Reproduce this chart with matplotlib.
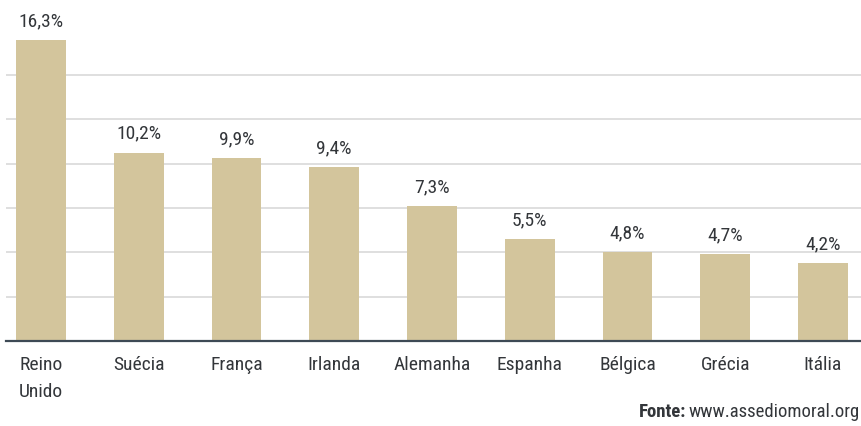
import matplotlib
matplotlib.use("Agg")
import matplotlib.pyplot as plt
from matplotlib import font_manager

# dados
paises = ["Reino\nUnido", "Suécia", "França", "Irlanda", "Alemanha", "Espanha", "Bélgica", "Grécia", "Itália"]
valores = [16.3, 10.2, 9.9, 9.4, 7.3, 5.5, 4.8, 4.7, 4.2]
rotulos = ["16,3%", "10,2%", "9,9%", "9,4%", "7,3%", "5,5%", "4,8%", "4,7%", "4,2%"]
grade = [2.4, 4.8, 7.2, 9.6, 12.0, 14.4]
fonte_txt = "www.assediomoral.org"

nomes = {f.name for f in font_manager.fontManager.ttflist}
familia = [f for f in ["Liberation Sans Narrow", "Roboto Condensed", "DejaVu Sans"] if f in nomes]
plt.rcParams["font.family"] = familia

cor_barra = "#d3c59c"
cor_texto = "#33363a"

fig = plt.figure(figsize=(8.62, 4.27), dpi=100)
ax = fig.add_axes([6 / 862, 85 / 427, 856 / 862, 342 / 427])

x = list(range(len(paises)))
ax.bar(x, valores, width=0.51, color=cor_barra, zorder=2)
for xi, v, r in zip(x, valores, rotulos):
    ax.text(xi, v + 0.6, r, ha="center", va="bottom", fontsize=14, color=cor_texto)

for g in grade:
    ax.axhline(g, color="#dcdcdc", lw=1.3, zorder=1)

ax.set_xlim(-0.358, 8.399)
ax.set_ylim(0, 18.52)
for s in ["top", "right", "left"]:
    ax.spines[s].set_visible(False)
ax.spines["bottom"].set_color("#3e4a55")
ax.spines["bottom"].set_linewidth(1.6)
ax.set_yticks([])
ax.set_xticks(x)
ax.set_xticklabels(paises, fontsize=14, color=cor_texto, linespacing=1.65, va="top")
ax.tick_params(axis="x", length=0, pad=10)

t1 = fig.text(860 / 862, 1 - 412 / 427, fonte_txt, ha="right", va="center", fontsize=13.5, color=cor_texto)
fig.canvas.draw()
bb = t1.get_window_extent()
fig.text(bb.x0 / fig.bbox.width - 0.003, 1 - 412 / 427, "Fonte:", ha="right", va="center",
         fontsize=13.5, fontweight="bold", color=cor_texto)

fig.savefig("out.png", dpi=100)
